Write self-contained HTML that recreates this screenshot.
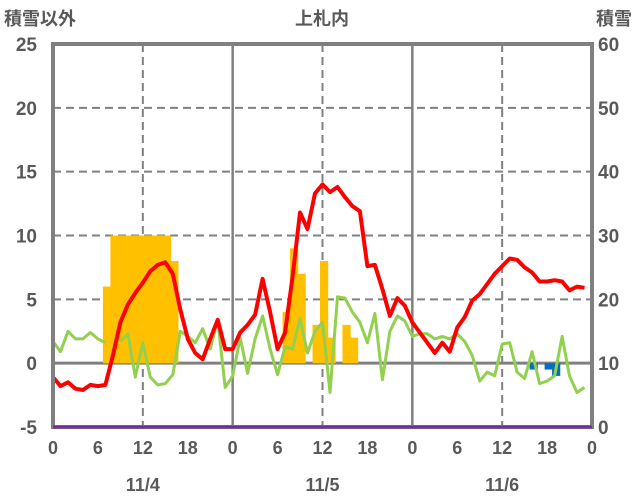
<!DOCTYPE html>
<html><head><meta charset="utf-8"><style>
html,body{margin:0;padding:0;background:#fff;width:636px;height:501px;overflow:hidden}
svg{display:block}
text{font-family:"Liberation Sans","Noto Sans CJK JP",sans-serif;fill:#595959}
</style></head><body>
<svg id="chart" width="636" height="501" viewBox="0 0 636 501" xmlns="http://www.w3.org/2000/svg">
<text x="4" y="25" font-size="18" font-weight="bold">積雪以外</text>
<text x="322" y="25" font-size="18" font-weight="bold" text-anchor="middle">上札内</text>
<text x="632" y="25" font-size="18" font-weight="bold" text-anchor="end">積雪</text>
<g id="grid"></g>
<g id="bars"></g>
<g id="lines"></g>
<g id="frame"></g>
<g id="labels"></g>
</svg>
<script>
const redSeries=[-1.1,-1.8,-1.5,-2.0,-2.1,-1.7,-1.8,-1.7,0.6,3.2,4.6,5.5,6.3,7.2,7.7,7.9,7.0,4.2,1.9,0.8,0.3,1.9,3.4,1.1,
1.1,2.4,3.0,3.8,6.6,4.0,1.1,2.4,6.8,11.8,10.5,13.3,14.0,13.4,13.8,13.0,12.3,11.9,7.6,7.7,5.8,3.7,5.1,4.5,
3.2,2.4,1.6,0.8,1.6,0.9,2.8,3.6,4.9,5.4,6.2,7.0,7.6,8.2,8.1,7.5,7.1,6.4,6.4,6.5,6.4,5.7,6.0,5.9];
const greenSeries=[1.7,0.9,2.5,1.9,1.9,2.4,1.9,1.6,null,1.7,2.3,-1.1,1.6,-1.1,-1.7,-1.6,-0.9,2.5,2.1,1.6,2.7,1.1,3.4,-1.9,
-1.0,2.0,-0.8,1.9,3.7,1.1,-0.9,1.3,1.1,3.5,0.8,2.5,3.2,-2.3,5.2,5.1,4.0,3.2,1.6,3.9,-1.3,2.5,3.7,3.3,
2.1,2.3,2.3,1.9,2.1,1.9,2.3,1.7,0.6,-1.4,-0.7,-1.0,1.5,1.6,-0.7,-1.2,0.9,-1.6,-1.4,-1.0,2.1,-1.0,-2.3,-1.9];
const barHours=[7,8,9,10,11,12,13,14,15,16,31,32,33,35,36,37,39,40,64,66,67];
const barValues=[6,10,10,10,10,10,10,10,10,8,4,9,7,3,8,2,3,2,-0.5,-0.5,-1.0];
const leftTicks=[25,20,15,10,5,0,-5];
const rightTicks=[60,50,40,30,20,10,0];
const hourTicks=[0,6,12,18,24,30,36,42,48,54,60,66,72];
const hourTickLabels=["0","6","12","18","0","6","12","18","0","6","12","18","0"];
const dayLabels=["11/4","11/5","11/6"];

const NS="http://www.w3.org/2000/svg";
const X0=53,X1=592,Y0=44,Y1=427;
const xs=h=>X0+(X1-X0)*h/72;
const ys=v=>Y1-(Y1-Y0)*(v+5)/30;
const yr=v=>Y1-(Y1-Y0)*v/60;
function mk(tag,attrs,parent){const e=document.createElementNS(NS,tag);for(const k in attrs)e.setAttribute(k,attrs[k]);parent.appendChild(e);return e;}
const grid=document.getElementById('grid'),bars=document.getElementById('bars'),lines=document.getElementById('lines'),frame=document.getElementById('frame'),labels=document.getElementById('labels');
leftTicks.forEach(v=>{
  if(v===25||v===-5)return;
  const l=mk('line',{x1:X0,x2:X1,y1:ys(v),y2:ys(v),stroke:'#808080','stroke-width':v===0?3:2,'stroke-dasharray':v===0?'':'8,5'},grid);
  
  
});
[12,24,36,48,60].forEach(h=>{
  const solid=h%24===0;
  const l=mk('line',{x1:xs(h),x2:xs(h),y1:Y0,y2:Y1,stroke:'#808080','stroke-width':solid?2.5:2,'stroke-dasharray':solid?'':'8,5'},grid);
  
  
});
barHours.forEach((h,i)=>{
  const v=barValues[i];
  const top=Math.min(ys(v),ys(0)),hgt=Math.abs(ys(v)-ys(0));
  const r=mk('rect',{x:xs(h)-2.5,y:top,width:8.2,height:hgt,fill:v>=0?'#FFC000':'#0070C0'},bars);
  
  
});
function path(series,color,w,name){
  let d='',pen=false;
  series.forEach((v,i)=>{if(v===null){pen=false;return;}d+=(pen?'L':'M')+xs(i).toFixed(1)+','+ys(v).toFixed(1);pen=true;});
  const p=mk('path',{d:d,fill:'none',stroke:color,'stroke-width':w,'stroke-linejoin':'round'},lines);
  
  
}
path(greenSeries,'#92D050',3,'green-series-line');
path(redSeries,'#FF0000',4,'red-series-line');
const fr=mk('rect',{x:X0,y:Y0,width:X1-X0,height:Y1-Y0,fill:'none',stroke:'#808080','stroke-width':4},frame);


const pl=mk('line',{x1:X0,x2:X1,y1:Y1,y2:Y1,stroke:'#7030A0','stroke-width':3},frame);


leftTicks.forEach(v=>{
  const t=mk('text',{x:37,y:ys(v)+7,'font-size':19,'font-weight':'bold','text-anchor':'end'},labels);t.textContent=v;
  
  
});
rightTicks.forEach(v=>{
  const t=mk('text',{x:598,y:yr(v)+7,'font-size':19,'font-weight':'bold'},labels);t.textContent=v;
  
  
});
hourTicks.forEach((h,i)=>{
  const t=mk('text',{x:xs(h),y:454,'font-size':18,'font-weight':'bold','text-anchor':'middle'},labels);t.textContent=hourTickLabels[i];
  
  
});
dayLabels.forEach((s,i)=>{
  const t=mk('text',{x:xs(12+24*i),y:491,'font-size':18,'font-weight':'bold','text-anchor':'middle'},labels);t.textContent=s;
  
  
});
</script>
</body></html>
